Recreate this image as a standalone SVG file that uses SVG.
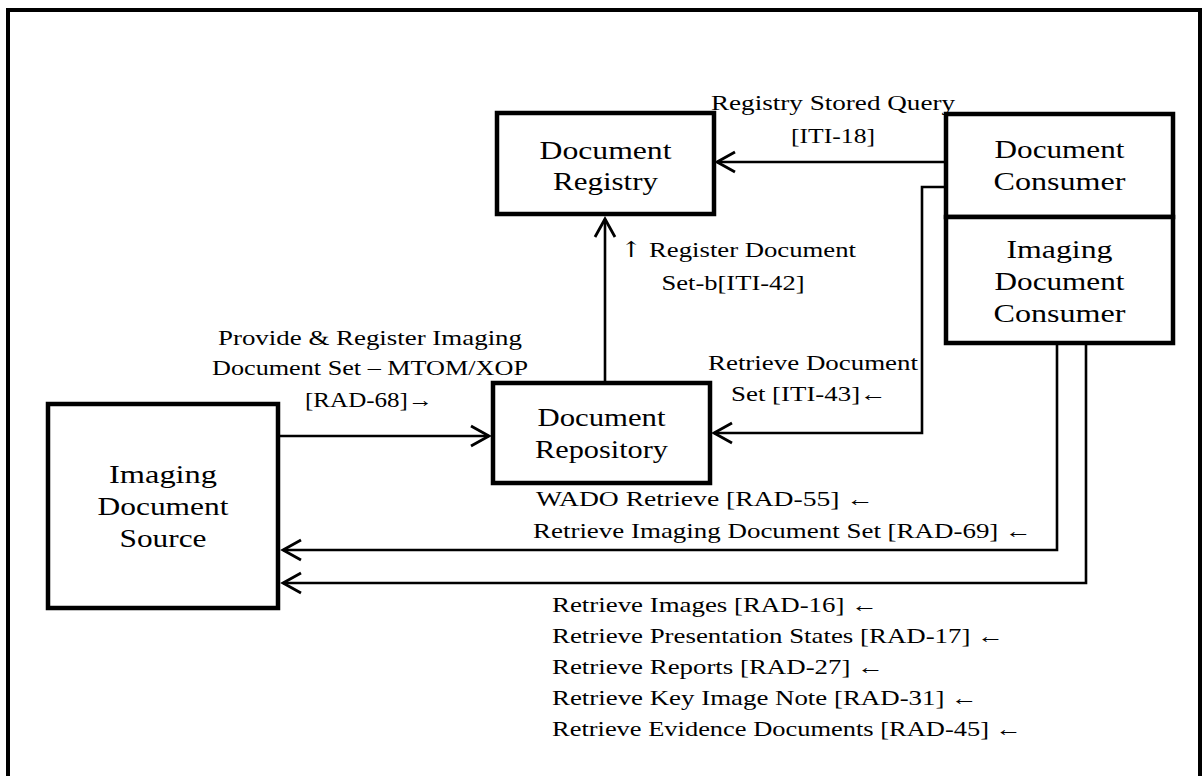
<svg xmlns="http://www.w3.org/2000/svg" width="1203" height="776" viewBox="0 0 1203 776">
<style>
.box{fill:#fff;stroke:#000;stroke-width:4.5}
.frame{fill:#fff;stroke:#000;stroke-width:4}
.con{fill:none;stroke:#000;stroke-width:2.6}
.n{font-family:"Liberation Serif","DejaVu Serif",serif;font-size:25px;fill:#000}
.l{font-family:"Liberation Serif","DejaVu Serif",serif;font-size:22px;fill:#000}
.ar{font-family:"DejaVu Serif",serif;fill:#000}
</style>
<defs>
<marker id="arr" viewBox="-21 -12 24 24" refX="0" refY="0" markerWidth="24" markerHeight="24" markerUnits="userSpaceOnUse" orient="auto">
<path d="M-18,-10 L0,0 L-18,10" fill="none" stroke="#000" stroke-width="2.8"/>
</marker>
</defs>
<rect class="frame" x="8" y="10" width="1192" height="790"/>
<g id="connectors">
<path class="con" d="M944,162 L717,162" marker-end="url(#arr)"/>
<path class="con" d="M605,383 L605,219" marker-end="url(#arr)"/>
<path class="con" d="M280,436 L489,436" marker-end="url(#arr)"/>
<path class="con" d="M944,187 L922,187 L922,433 L714,433" marker-end="url(#arr)"/>
<path class="con" d="M1057,343 L1057,550 L283,550" marker-end="url(#arr)"/>
<path class="con" d="M1086,343 L1086,583 L283,583" marker-end="url(#arr)"/>
</g>
<g id="labels">
<text class="l" x="711" y="110" textLength="244" lengthAdjust="spacingAndGlyphs">Registry Stored Query</text>
<text class="l" x="791" y="143" textLength="84" lengthAdjust="spacingAndGlyphs">[ITI-18]</text>
<text class="l" x="620" y="257" textLength="236" lengthAdjust="spacingAndGlyphs"><tspan class="ar">↑</tspan> Register Document</text>
<text class="l" x="661.5" y="290" textLength="143" lengthAdjust="spacingAndGlyphs">Set-b[ITI-42]</text>
<text class="l" x="218" y="345" textLength="304" lengthAdjust="spacingAndGlyphs">Provide &amp; Register Imaging</text>
<text class="l" x="212" y="375" textLength="316" lengthAdjust="spacingAndGlyphs">Document Set – MTOM/XOP</text>
<text class="l" x="305" y="407" textLength="128" lengthAdjust="spacingAndGlyphs">[RAD-68]→</text>
<text class="l" x="708" y="370" textLength="210" lengthAdjust="spacingAndGlyphs">Retrieve Document</text>
<text class="l" x="731" y="401" textLength="156" lengthAdjust="spacingAndGlyphs">Set [ITI-43]←</text>
<text class="l" x="536" y="506" textLength="338" lengthAdjust="spacingAndGlyphs">WADO Retrieve [RAD-55] ←</text>
<text class="l" x="533" y="538" textLength="499" lengthAdjust="spacingAndGlyphs">Retrieve Imaging Document Set [RAD-69] ←</text>
<text class="l" x="552" y="612" textLength="326" lengthAdjust="spacingAndGlyphs">Retrieve Images [RAD-16] ←</text>
<text class="l" x="552" y="643" textLength="452" lengthAdjust="spacingAndGlyphs">Retrieve Presentation States [RAD-17] ←</text>
<text class="l" x="552" y="674" textLength="332" lengthAdjust="spacingAndGlyphs">Retrieve Reports [RAD-27] ←</text>
<text class="l" x="552" y="705" textLength="426" lengthAdjust="spacingAndGlyphs">Retrieve Key Image Note [RAD-31] ←</text>
<text class="l" x="552" y="736" textLength="470" lengthAdjust="spacingAndGlyphs">Retrieve Evidence Documents [RAD-45] ←</text>
</g>
<g id="registry">
<rect class="box" x="497" y="113" width="217" height="101"/>
<text class="n" x="539.5" y="159" textLength="132" lengthAdjust="spacingAndGlyphs">Document</text>
<text class="n" x="553" y="190" textLength="105" lengthAdjust="spacingAndGlyphs">Registry</text>
</g>
<g id="consumer">
<rect class="box" x="946" y="114" width="227" height="103"/>
<text class="n" x="994.5" y="158" textLength="130" lengthAdjust="spacingAndGlyphs">Document</text>
<text class="n" x="993.5" y="190" textLength="132" lengthAdjust="spacingAndGlyphs">Consumer</text>
</g>
<g id="imaging-consumer">
<rect class="box" x="946" y="217" width="227" height="126"/>
<text class="n" x="1006.5" y="258" textLength="106" lengthAdjust="spacingAndGlyphs">Imaging</text>
<text class="n" x="994.5" y="290" textLength="130" lengthAdjust="spacingAndGlyphs">Document</text>
<text class="n" x="993.5" y="322" textLength="132" lengthAdjust="spacingAndGlyphs">Consumer</text>
</g>
<g id="repository">
<rect class="box" x="493" y="383" width="217" height="100"/>
<text class="n" x="537.5" y="426" textLength="128" lengthAdjust="spacingAndGlyphs">Document</text>
<text class="n" x="535" y="458" textLength="133" lengthAdjust="spacingAndGlyphs">Repository</text>
</g>
<g id="source">
<rect class="box" x="48" y="404" width="230" height="204"/>
<text class="n" x="109" y="483" textLength="108" lengthAdjust="spacingAndGlyphs">Imaging</text>
<text class="n" x="97.5" y="515" textLength="131" lengthAdjust="spacingAndGlyphs">Document</text>
<text class="n" x="119.5" y="547" textLength="87" lengthAdjust="spacingAndGlyphs">Source</text>
</g>
</svg>
